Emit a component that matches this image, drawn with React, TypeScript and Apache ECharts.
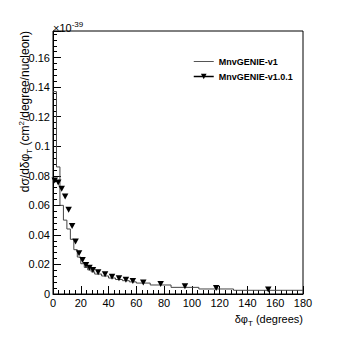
import React, { useEffect, useRef } from "react";
import * as echarts from "echarts";

// MnvGENIE-v1 histogram (bin edges and contents, x1e-39)
const histEdges = [0, 2.5, 5, 7.5, 10, 12.5, 15, 17.5, 20, 22.5, 25, 27.5, 30, 35, 40, 45, 50, 55, 60, 70, 85, 105, 130, 180];
const histValues = [0.137, 0.086, 0.060, 0.050, 0.044, 0.037, 0.030, 0.025, 0.0205, 0.018, 0.0163, 0.015, 0.0135, 0.0122, 0.0108, 0.0098, 0.009, 0.0082, 0.0074, 0.0061, 0.0045, 0.0034, 0.0025];

// MnvGENIE-v1.0.1 points (bin centres and values)
const pointX = [1.25, 3.75, 6.25, 8.75, 11.25, 13.75, 16.25, 18.75, 21.25, 23.75, 26.25, 28.75, 32.5, 37.5, 42.5, 47.5, 52.5, 57.5, 65, 77.5, 95, 117.5, 155];
const pointY = [0.0768, 0.0755, 0.0712, 0.066, 0.057, 0.046, 0.0355, 0.0276, 0.023, 0.0197, 0.0178, 0.0163, 0.0147, 0.0133, 0.0117, 0.0106, 0.0097, 0.0088, 0.0077, 0.0067, 0.0053, 0.0041, 0.003];

const seriesNames = ["MnvGENIE-v1", "MnvGENIE-v1.0.1"];
const xTicks = { min: 0, max: 180, interval: 20 };
const yTicks = { min: 0, max: 0.178, interval: 0.02 };

const FONT = "Liberation Sans, Arial, Helvetica, sans-serif";

export default function App() {
  const ref = useRef<HTMLDivElement>(null);
  useEffect(() => {
    if (!ref.current) return;
    const chart = echarts.init(ref.current, null, { renderer: "svg" });
    const histPts: number[][] = [];
    for (let i = 0; i < histValues.length; i++) {
      histPts.push([histEdges[i], histValues[i]]);
      histPts.push([histEdges[i + 1], histValues[i]]);
    }
    const pts = pointX.map((x, i) => [x, pointY[i]]);
    chart.setOption({
      animation: false,
      backgroundColor: "#fff",
      grid: { left: 53, right: 54, top: 31, bottom: 52, show: true, borderColor: "#000", borderWidth: 1, backgroundColor: "transparent" },
      xAxis: {
        type: "value",
        min: xTicks.min,
        max: xTicks.max,
        interval: xTicks.interval,
        axisLine: { show: true, onZero: false, lineStyle: { color: "#000", width: 1 } },
        axisTick: { show: true, inside: true, length: 8, lineStyle: { color: "#000" } },
        minorTick: { show: true, splitNumber: 5, length: 4, lineStyle: { color: "#000" } },
        splitLine: { show: false },
        axisLabel: { color: "#000", fontSize: 11, fontFamily: FONT, margin: 3 },
      },
      yAxis: {
        type: "value",
        min: yTicks.min,
        max: yTicks.max,
        interval: yTicks.interval,
        axisLine: { show: true, onZero: false, lineStyle: { color: "#000", width: 1 } },
        axisTick: { show: true, inside: true, length: 8, lineStyle: { color: "#000" } },
        minorTick: { show: true, splitNumber: 5, length: 4, lineStyle: { color: "#000" } },
        splitLine: { show: false },
        axisLabel: {
          color: "#000",
          fontSize: 11,
          fontFamily: FONT,
          margin: 3,
          formatter: (v: number) => {
            const k = Math.round(v / 0.02);
            if (Math.abs(k * 0.02 - v) > 1e-9) return "";
            return String(+v.toFixed(2));
          },
        },
      },
      legend: {
        orient: "vertical",
        left: 193,
        top: 57,
        padding: 0,
        itemWidth: 20,
        itemHeight: 7,
        itemGap: 6,
        textStyle: { fontSize: 9, fontWeight: "bold", fontFamily: FONT, color: "#000" },
        data: [
          { name: seriesNames[0], itemStyle: { opacity: 0 }, lineStyle: { width: 1, opacity: 1, color: "#555" } },
          { name: seriesNames[1], lineStyle: { width: 1.5, opacity: 1, color: "#000" } },
        ],
      },
      series: [
        {
          name: seriesNames[0],
          type: "line",
          data: histPts,
          symbol: "none",
          lineStyle: { color: "#444", width: 1 },
          itemStyle: { color: "#444" },
        },
        {
          name: seriesNames[1],
          type: "line",
          data: pts,
          symbol: "triangle",
          symbolRotate: 180,
          symbolSize: [6.5, 6],
          lineStyle: { width: 0, opacity: 0 },
          itemStyle: { color: "#000" },
        },
      ],
      graphic: [
        {
          type: "text",
          left: 53,
          top: 20,
          style: {
            text: "{n|×10}{sup|-39}",
            rich: {
              n: { fontSize: 11, fontFamily: FONT, fill: "#000", lineHeight: 16 },
              sup: { fontSize: 8, fontFamily: FONT, fill: "#000", lineHeight: 8, verticalAlign: "top" },
            },
          },
        },
        {
          type: "text",
          x: 25,
          y: 31,
          rotation: Math.PI / 2,
          style: {
            text: "{n|dσ/dδφ}{sub|T}{n| (cm}{sup|2}{n|/degree/nucleon)}",
            align: "right",
            verticalAlign: "middle",
            rich: {
              n: { fontSize: 12, fontFamily: FONT, fill: "#000", lineHeight: 16 },
              sub: { fontSize: 8, fontFamily: FONT, fill: "#000", lineHeight: 8, verticalAlign: "bottom" },
              sup: { fontSize: 8, fontFamily: FONT, fill: "#000", lineHeight: 8, verticalAlign: "top" },
            },
          },
        },
        {
          type: "text",
          x: 303,
          y: 319,
          style: {
            text: "{n|δφ}{sub|T}{n| (degrees)}",
            align: "right",
            verticalAlign: "middle",
            rich: {
              n: { fontSize: 11, fontFamily: FONT, fill: "#000", lineHeight: 16 },
              sub: { fontSize: 8, fontFamily: FONT, fill: "#000", lineHeight: 8, verticalAlign: "bottom" },
            },
          },
        },
      ],
    });
    return () => chart.dispose();
  }, []);
  return (
    <div
      ref={ref}
      style={{ position: "absolute", left: 0, top: 0, width: 357, height: 346 }}
    />
  );
}
